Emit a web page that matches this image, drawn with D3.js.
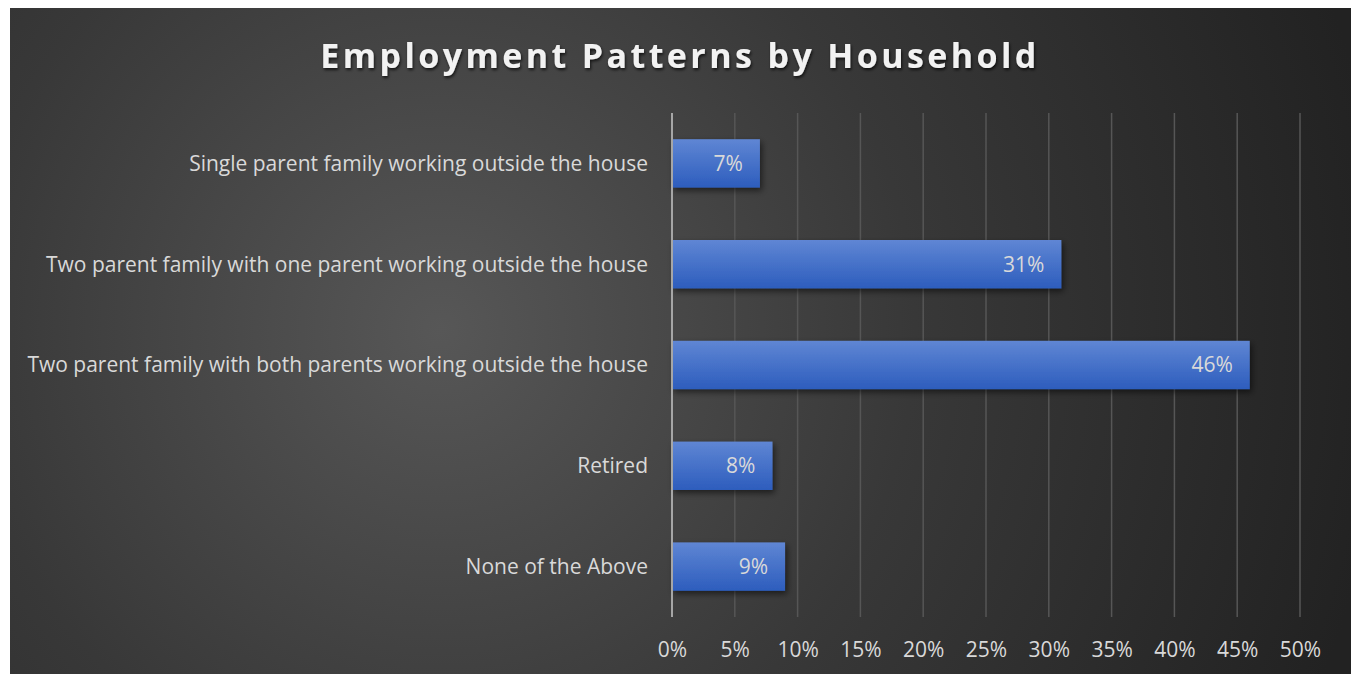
<!DOCTYPE html>
<html><head><meta charset="utf-8">
<script src="https://cdn.jsdelivr.net/npm/d3@7"></script>
<style>html,body{margin:0;padding:0;background:#fff;overflow:hidden}</style>
</head><body>
<svg id="chart" width="1351" height="674"></svg>
<script>
const categories = [
  "Single parent family working outside the house",
  "Two parent family with one parent working outside the house",
  "Two parent family with both parents working outside the house",
  "Retired",
  "None of the Above"
];
const values = [7, 31, 46, 8, 9];
const tickValues = [0, 5, 10, 15, 20, 25, 30, 35, 40, 45, 50];
const title = "Employment Patterns by Household";

const svg = d3.select("#chart");
const defs = svg.append("defs");
const bg = defs.append("radialGradient").attr("id","bg")
  .attr("gradientUnits","userSpaceOnUse").attr("cx",440).attr("cy",330).attr("r",950);
bg.append("stop").attr("offset","0%").attr("stop-color","#575757");
bg.append("stop").attr("offset","50%").attr("stop-color","#383838");
bg.append("stop").attr("offset","100%").attr("stop-color","#222222");
const bar = defs.append("linearGradient").attr("id","bar").attr("x1",0).attr("y1",0).attr("x2",0).attr("y2",1);
bar.append("stop").attr("offset","0%").attr("stop-color","#5f86d4");
bar.append("stop").attr("offset","100%").attr("stop-color","#2d5dbd");
const sh = defs.append("filter").attr("id","sh").attr("x","-10%").attr("y","-30%").attr("width","130%").attr("height","180%");
sh.append("feDropShadow").attr("dx",2).attr("dy",3).attr("stdDeviation",3).attr("flood-color","#000").attr("flood-opacity",0.55);
const tsh = defs.append("filter").attr("id","tsh").attr("x","-5%").attr("y","-30%").attr("width","110%").attr("height","180%");
tsh.append("feDropShadow").attr("dx",1).attr("dy",2).attr("stdDeviation",1.5).attr("flood-color","#000").attr("flood-opacity",0.7);

svg.append("rect").attr("x",10).attr("y",8).attr("width",1341).attr("height",666).attr("fill","url(#bg)");

const x = d3.scaleLinear().domain([0,50]).range([672,1300]);
const y = d3.scaleBand().domain(categories).range([113,617]).paddingInner(0.52).paddingOuter(0.26);

// gridlines
svg.append("g").selectAll("line").data(tickValues.filter(d=>d>0)).join("line")
  .attr("x1",d=>x(d)).attr("x2",d=>x(d)).attr("y1",113).attr("y2",617)
  .attr("stroke","#565656").attr("stroke-width",1.5);

// bars
svg.append("g").selectAll("rect").data(values).join("rect")
  .attr("x",x(0)).attr("y",(d,i)=>y(categories[i]))
  .attr("width",d=>x(d)-x(0)).attr("height",y.bandwidth())
  .attr("fill","url(#bar)").attr("filter","url(#sh)");

// axis line
svg.append("line").attr("x1",x(0)).attr("x2",x(0)).attr("y1",113).attr("y2",617)
  .attr("stroke","#a6a6a6").attr("stroke-width",2);

// value labels
svg.append("g").selectAll("text").data(values).join("text")
  .attr("x",d=>x(d)-17).attr("y",(d,i)=>y(categories[i])+y.bandwidth()/2)
  .attr("dy","0.35em").attr("text-anchor","end")
  .attr("font-family","'Open Sans', sans-serif").attr("font-size",21)
  .attr("fill","#d9d9d9").text(d=>d+"%");

// category labels
svg.append("g").selectAll("text").data(categories).join("text")
  .attr("x",648).attr("y",d=>y(d)+y.bandwidth()/2)
  .attr("dy","0.35em").attr("text-anchor","end")
  .attr("font-family","'Open Sans', sans-serif").attr("font-size",21)
  .attr("fill","#d9d9d9").text(d=>d);

// x axis tick labels
const xAxis = d3.axisBottom(x).tickValues(tickValues).tickFormat(d=>d+"%").tickSize(0).tickPadding(0);
const ax = svg.append("g").attr("transform","translate(0,642)").call(xAxis);
ax.select(".domain").remove();
ax.selectAll("text").attr("font-family","'Open Sans', sans-serif").attr("font-size",21).attr("fill","#d9d9d9");

// title
svg.append("text").attr("x",680).attr("y",68).attr("text-anchor","middle")
  .attr("font-family","'Open Sans', sans-serif").attr("font-weight","bold").attr("font-size",34)
  .attr("letter-spacing",3.4).attr("fill","#f2f2f2").attr("filter","url(#tsh)").text(title);
</script>
</body></html>
